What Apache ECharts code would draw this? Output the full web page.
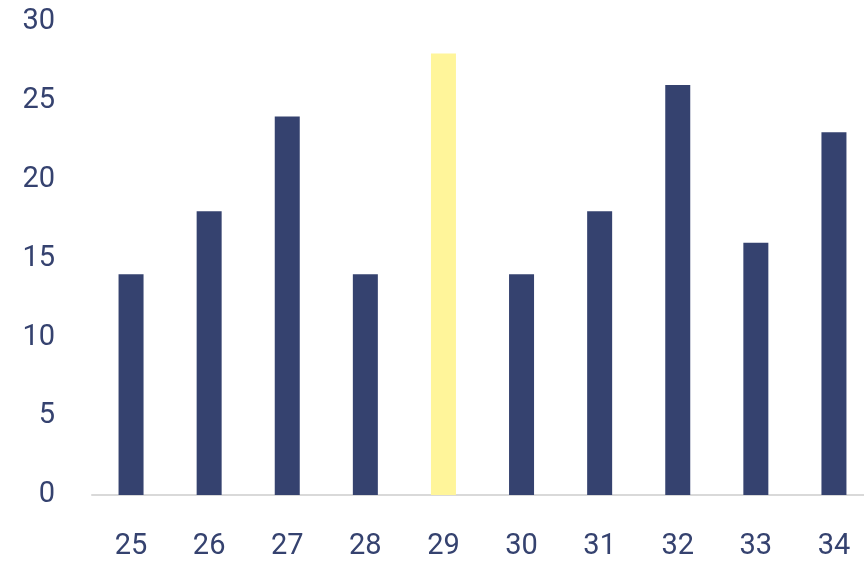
<!DOCTYPE html>
<html>
<head>
<meta charset="utf-8">
<script src="https://cdn.jsdelivr.net/npm/echarts@6/dist/echarts.min.js"></script>
<style>
  html, body { margin: 0; padding: 0; background: #ffffff; overflow: hidden; }
  #chart { width: 864px; height: 563px; }
</style>
</head>
<body>
<div id="chart"></div>
<script>
// Category labels along the x axis
const categories = ['25', '26', '27', '28', '29', '30', '31', '32', '33', '34'];
// Bar values
const values = [14, 18, 24, 14, 28, 14, 18, 26, 16, 23];
// Category drawn in the accent colour
const highlighted = '29';

const navy = '#35426F';
const accent = '#FFF59A';
const textColor = '#35426F';
const fontFamily = 'Roboto, "Open Sans", sans-serif';

const chart = echarts.init(document.getElementById('chart'), null, { renderer: 'canvas' });

chart.setOption({
  animation: false,
  // plot area runs slightly past the right edge of the canvas
  grid: { left: 92, width: 781, top: 22, bottom: 68, containLabel: false, outerBoundsMode: 'none' },
  xAxis: {
    type: 'category',
    data: categories,
    axisLine: { show: true, lineStyle: { color: '#D9D9D9', width: 2 } },
    axisTick: { show: false },
    axisLabel: { color: textColor, fontSize: 29, fontFamily: fontFamily, margin: 37 }
  },
  yAxis: {
    type: 'value',
    min: 0,
    max: 30,
    interval: 5,
    axisLine: { show: false },
    axisTick: { show: false },
    splitLine: { show: false },
    axisLabel: { color: textColor, fontSize: 29, fontFamily: fontFamily, margin: 37 }
  },
  series: [{
    type: 'bar',
    barWidth: 25,
    data: values.map((v, i) => ({
      value: v,
      itemStyle: { color: categories[i] === highlighted ? accent : navy }
    }))
  }]
});
</script>
</body>
</html>
